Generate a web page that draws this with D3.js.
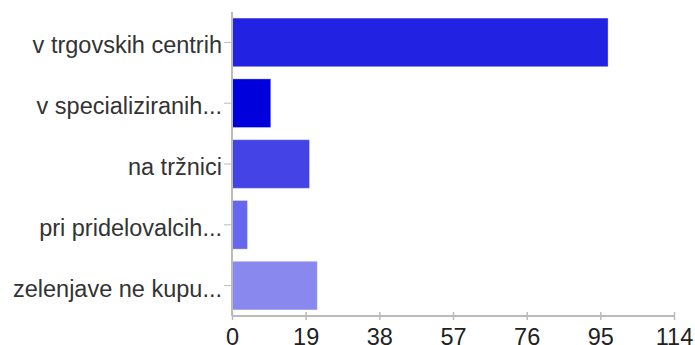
<!DOCTYPE html>
<html>
<head>
<meta charset="utf-8">
<script src="https://cdn.jsdelivr.net/npm/d3@7"></script>
<style>
  html, body { margin: 0; padding: 0; background: #fff; }
  svg { display: block; }
</style>
</head>
<body>
<svg id="chart" width="695" height="345"></svg>
<script>
// Where respondents buy vegetables
const categories = [
  "v trgovskih centrih",
  "v specializiranih...",
  "na tržnici",
  "pri pridelovalcih...",
  "zelenjave ne kupu..."
];
const counts = [97, 10, 20, 4, 22];
const barColors = ["#2222e2", "#0000dd", "#4444e6", "#6666ee", "#8888ef"];
const xTicks = [0, 19, 38, 57, 76, 95, 114];

const FONT = "'Liberation Sans', Arial, Helvetica, sans-serif";
const svg = d3.select("#chart");
const margin = { top: 12, right: 21, bottom: 29, left: 232 };
const width = 695 - margin.left - margin.right;
const height = 345 - margin.top - margin.bottom;

const g = svg.append("g").attr("transform", `translate(${margin.left},${margin.top})`);

const x = d3.scaleLinear().domain([0, 114]).range([0, width]);
const y = d3.scaleBand().domain(categories).range([0, height])
  .paddingInner(0.2).paddingOuter(0.1);

// Bars
g.selectAll("rect.bar")
  .data(categories)
  .join("rect")
  .attr("class", "bar")
  .attr("x", x(0))
  .attr("y", d => y(d))
  .attr("width", (d, i) => x(counts[i]))
  .attr("height", y.bandwidth())
  .attr("fill", (d, i) => barColors[i])
  .attr("stroke", "#ffffff")
  .attr("stroke-opacity", 0.35)
  .attr("stroke-width", 1);

// Left axis with category labels
const yAxis = g.append("g")
  .attr("font-family", FONT)
  .attr("font-size", 23.5)
  .call(d3.axisLeft(y).tickSize(8).tickPadding(2));
yAxis.attr("font-family", FONT).attr("font-size", 23.5);
yAxis.select(".domain").attr("stroke", "#bbbbbb").attr("stroke-width", 2)
  .attr("d", `M0,0V${height}`);
yAxis.selectAll(".tick line").attr("stroke", "#bbbbbb");
yAxis.selectAll(".tick text")
  .attr("fill", "#333333")
  .attr("dy", "0.47em");

// Bottom value axis
const xAxis = g.append("g")
  .attr("transform", `translate(0,${height})`)
  .call(d3.axisBottom(x).tickValues(xTicks).tickSize(4).tickPadding(8));
xAxis.attr("font-family", FONT).attr("font-size", 23.5);
xAxis.select(".domain").attr("stroke", "#bbbbbb").attr("stroke-width", 2)
  .attr("d", `M0,0H${width}`);
xAxis.selectAll(".tick line").attr("stroke", "#bbbbbb").attr("stroke-width", 1.5)
  .attr("y1", -4);
xAxis.selectAll(".tick text")
  .attr("fill", "#222222");
</script>
</body>
</html>
